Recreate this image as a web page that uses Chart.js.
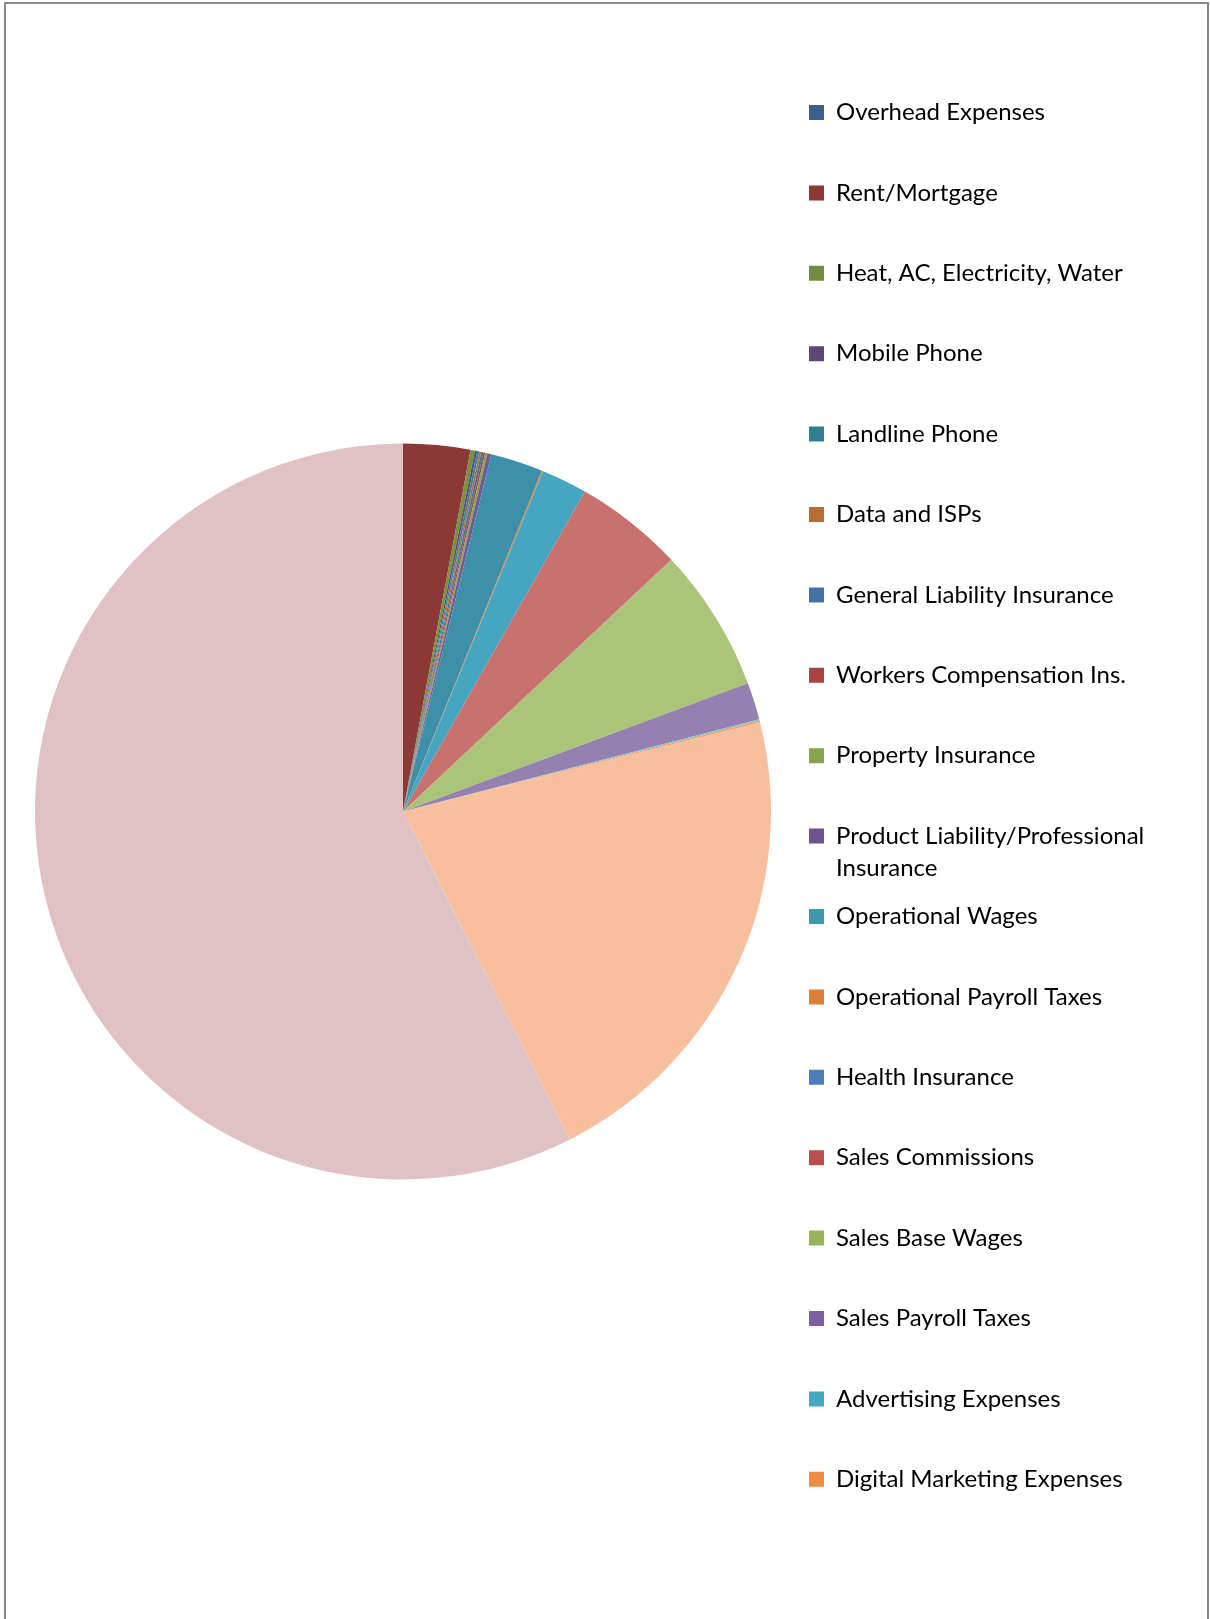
<!DOCTYPE html>
<html><head><meta charset="utf-8">
<script src="https://cdn.jsdelivr.net/npm/chart.js@4.4.1/dist/chart.umd.min.js"></script>
<style>
html,body{margin:0;padding:0;background:#fff;overflow:hidden;width:1210px;height:1619px;}
#frame{position:absolute;left:4px;top:2px;width:1205px;height:1700px;box-sizing:border-box;border:2px solid #878787;border-bottom:none;}
#wrap{position:absolute;left:0;top:0;width:1210px;height:1619px;}
</style></head><body>
<div id="frame"></div>
<div id="wrap"><canvas id="c" width="1210" height="1619"></canvas></div>
<script>
// ---- data ----
const categories = [
  'Overhead Expenses',
  'Rent/Mortgage',
  'Heat, AC, Electricity, Water',
  'Mobile Phone',
  'Landline Phone',
  'Data and ISPs',
  'General Liability Insurance',
  'Workers Compensation Ins.',
  'Property Insurance',
  'Product Liability/Professional Insurance',
  'Operational Wages',
  'Operational Payroll Taxes',
  'Health Insurance',
  'Sales Commissions',
  'Sales Base Wages',
  'Sales Payroll Taxes',
  'Advertising Expenses',
  'Digital Marketing Expenses',
  'Unlabeled slice 19',
  'Unlabeled slice 20'
];
const values = [0, 2.94, 0.19, 0.10, 0.10, 0.08, 0.10, 0.08, 0.10, 0.17, 2.30, 0.06, 2.01, 4.78, 6.32, 1.64, 0.06, 0.08, 21.39, 57.50];
const sliceColors = ['#3A5F8B','#8B3836','#77933C','#5F4879','#31859C','#B7702F','#4672AA','#AA4643','#89A54E','#6E5A9A','#3E8FA8','#DB843D','#46A6C1','#C8716F','#AAC47A','#9581B0','#7CC1D6','#F5A060','#F8BF9F','#E1C2C4'];
const legendColors = ['#3A5F8B','#8C3836','#748A3E','#5D4777','#327F93','#B66D31','#4470A5','#A84441','#87A34C','#6D5390','#3F96AD','#D9813A','#4A7DBA','#B94F4C','#96B45A','#7C5FA0','#48A7C0','#EC8F45'];
const legendCount = 18;

const FONT_FAMILY = 'Lato';
const FONT_SIZE = 24;
const LINE_H = 32;
const ITEM_PITCH = 80.4;
const WRAP_W = 340;
const BOX = 15;
const CANVAS_W = 1210;
const PIE_CX = 403;
const LEGEND_BOX_X = 809;

function wrapLabel(ctx, text) {
  ctx.save();
  ctx.font = FONT_SIZE + 'px ' + FONT_FAMILY;
  const words = text.split(' ');
  const lines = [];
  let cur = '';
  for (const w of words) {
    const t = cur ? cur + ' ' + w : w;
    if (cur && ctx.measureText(t).width > WRAP_W) { lines.push(cur); cur = w; } else { cur = t; }
  }
  lines.push(cur);
  ctx.restore();
  while (lines.length < 2) lines.push('');
  return lines;
}

function build() {
  const cv = document.getElementById('c');
  const ctx = cv.getContext('2d');
  const labelPad = ITEM_PITCH - 2 * LINE_H;
  ctx.font = FONT_SIZE + 'px ' + FONT_FAMILY;
  let maxLine = 0;
  categories.slice(0, legendCount).forEach(n => wrapLabel(ctx, n).forEach(l => { maxLine = Math.max(maxLine, ctx.measureText(l).width); }));
  const legendW = labelPad + BOX + FONT_SIZE / 2 + maxLine + 10;
  const legendLeft = LEGEND_BOX_X - labelPad;
  const padR = CANVAS_W - legendLeft - legendW;
  const padL = 2 * PIE_CX - legendLeft;

  new Chart(cv, {
    type: 'pie',
    data: {
      labels: categories,
      datasets: [{ data: values, backgroundColor: sliceColors, borderWidth: 0, radius: 368 }]
    },
    options: {
      responsive: false,
      animation: false,
      layout: { padding: { left: padL, right: padR, top: 4, bottom: 0 } },
      plugins: {
        tooltip: { enabled: false },
        legend: {
          position: 'right',
          align: 'center',
          title: { display: true, text: ' ', padding: 0, color: '#000', font: { size: 1, lineHeight: '8.8px' } },
          labels: {
            boxWidth: BOX,
            boxHeight: BOX,
            padding: labelPad,
            color: '#000',
            font: { family: FONT_FAMILY, size: FONT_SIZE, lineHeight: LINE_H + 'px' },
            generateLabels(chart) {
              const c = chart.ctx;
              return categories.slice(0, legendCount).map((name, i) => ({
                text: wrapLabel(c, name),
                fillStyle: legendColors[i],
                strokeStyle: legendColors[i],
                fontColor: '#000',
                lineWidth: 0,
                hidden: false,
                index: i
              }));
            }
          }
        }
      }
    }
  });
}
if (document.fonts && document.fonts.load) {
  document.fonts.load(FONT_SIZE + 'px ' + FONT_FAMILY).then(build, build);
} else { build(); }
</script>
</body></html>
